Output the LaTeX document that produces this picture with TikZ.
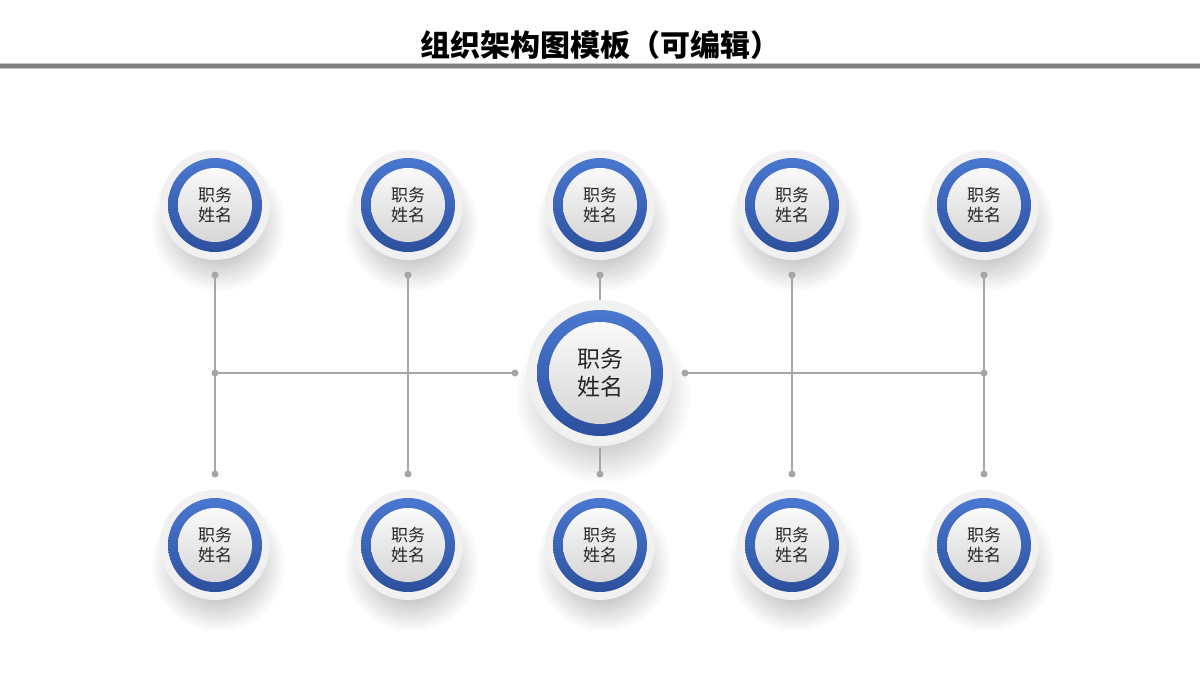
\documentclass[tikz,border=0pt]{standalone}
\usepackage{fontspec}
\newfontfamily\cjk{Noto Sans CJK SC}
\definecolor{ringtop}{HTML}{4A78D0}
\definecolor{ringbot}{HTML}{2D509E}
\definecolor{linkgray}{HTML}{A6A6A6}
\definecolor{bargray}{HTML}{7F7F7F}
\definecolor{txtgray}{HTML}{262626}
\pgfdeclareradialshading{shadowfade}{\pgfpoint{0bp}{0bp}}{color(0bp)=(black!26); color(12bp)=(black!22); color(25bp)=(white); color(50bp)=(white)}
\tikzset{
	shadowdisc/.style={circle, inner sep=0, shading=shadowfade},
	outerdisc/.style={circle, inner sep=0, inner color=white, outer color=black!6},
	ringdisc/.style={circle, inner sep=0, top color=ringtop, bottom color=ringbot},
	innerdisc/.style={circle, inner sep=0, top color=black!2, bottom color=black!16, font=\cjk, text=txtgray, align=center},
	link/.style={draw=linkgray, line width=1.6pt},
	dot/.style={circle, fill=linkgray, inner sep=0, minimum size=7pt}
}
\begin{document}
\begin{tikzpicture}[x=1pt,y=-1pt]
		\useasboundingbox (0,0) rectangle (1200,675);
		\fill[white] (0,0) rectangle (1200,675);

		\node[font=\cjk\bfseries\fontsize{30}{36}\selectfont, text=black] (title) at (600,45) {组织架构图模板（可编辑）};
		\fill[black!22] (0,63) rectangle (1200,69);
		\fill[bargray] (0,64) rectangle (1200,68);

		% shadows
		\node[shadowdisc, minimum size=176pt] at (603,396) {};
		\node[shadowdisc, minimum size=136pt] at (218,224) {};
		\node[shadowdisc, minimum size=136pt] at (411,224) {};
		\node[shadowdisc, minimum size=136pt] at (603,224) {};
		\node[shadowdisc, minimum size=136pt] at (795,224) {};
		\node[shadowdisc, minimum size=136pt] at (987,224) {};
		\node[shadowdisc, minimum size=136pt] at (218,564) {};
		\node[shadowdisc, minimum size=136pt] at (411,564) {};
		\node[shadowdisc, minimum size=136pt] at (603,564) {};
		\node[shadowdisc, minimum size=136pt] at (795,564) {};
		\node[shadowdisc, minimum size=136pt] at (987,564) {};

		% dots
		\node[dot] (t1) at (215,275) {};
		\node[dot] (t2) at (408,275) {};
		\node[dot] (t3) at (600,275) {};
		\node[dot] (t4) at (792,275) {};
		\node[dot] (t5) at (984,275) {};
		\node[dot] (b1) at (215,474) {};
		\node[dot] (b2) at (408,474) {};
		\node[dot] (b3) at (600,474) {};
		\node[dot] (b4) at (792,474) {};
		\node[dot] (b5) at (984,474) {};
		\node[dot] (m1) at (215,373) {};
		\node[dot] (m5) at (984,373) {};
		\node[dot] (cl) at (515,373) {};
		\node[dot] (cr) at (685,373) {};
		\coordinate (ct) at (600,300);
		\coordinate (cb) at (600,448);

		\draw[link] (t1.center) -- (b1.center);
		\draw[link] (t2.center) -- (b2.center);
		\draw[link] (t4.center) -- (b4.center);
		\draw[link] (t5.center) -- (b5.center);
		\draw[link] (m1.center) -- (cl.center);
		\draw[link] (cr.center) -- (m5.center);
		\draw[link] (t3.center) -- (ct);
		\draw[link] (b3.center) -- (cb);

		% centre
		\node[outerdisc, minimum size=146pt] (c) at (600,373) {};
		\node[ringdisc, minimum size=126pt] at (c) {};
		\node[innerdisc, minimum size=102pt, font=\cjk\fontsize{23}{28}\selectfont] at (c) {职务\\姓名};

		% top row
		\node[outerdisc, minimum size=110pt] (p1) at (215,205) {};
		\node[ringdisc, minimum size=94pt] at (p1) {};
		\node[innerdisc, minimum size=74pt, font=\cjk\fontsize{17}{20}\selectfont] at (p1) {职务\\姓名};
		\node[outerdisc, minimum size=110pt] (p2) at (408,205) {};
		\node[ringdisc, minimum size=94pt] at (p2) {};
		\node[innerdisc, minimum size=74pt, font=\cjk\fontsize{17}{20}\selectfont] at (p2) {职务\\姓名};
		\node[outerdisc, minimum size=110pt] (p3) at (600,205) {};
		\node[ringdisc, minimum size=94pt] at (p3) {};
		\node[innerdisc, minimum size=74pt, font=\cjk\fontsize{17}{20}\selectfont] at (p3) {职务\\姓名};
		\node[outerdisc, minimum size=110pt] (p4) at (792,205) {};
		\node[ringdisc, minimum size=94pt] at (p4) {};
		\node[innerdisc, minimum size=74pt, font=\cjk\fontsize{17}{20}\selectfont] at (p4) {职务\\姓名};
		\node[outerdisc, minimum size=110pt] (p5) at (984,205) {};
		\node[ringdisc, minimum size=94pt] at (p5) {};
		\node[innerdisc, minimum size=74pt, font=\cjk\fontsize{17}{20}\selectfont] at (p5) {职务\\姓名};

		% bottom row
		\node[outerdisc, minimum size=110pt] (q1) at (215,545) {};
		\node[ringdisc, minimum size=94pt] at (q1) {};
		\node[innerdisc, minimum size=74pt, font=\cjk\fontsize{17}{20}\selectfont] at (q1) {职务\\姓名};
		\node[outerdisc, minimum size=110pt] (q2) at (408,545) {};
		\node[ringdisc, minimum size=94pt] at (q2) {};
		\node[innerdisc, minimum size=74pt, font=\cjk\fontsize{17}{20}\selectfont] at (q2) {职务\\姓名};
		\node[outerdisc, minimum size=110pt] (q3) at (600,545) {};
		\node[ringdisc, minimum size=94pt] at (q3) {};
		\node[innerdisc, minimum size=74pt, font=\cjk\fontsize{17}{20}\selectfont] at (q3) {职务\\姓名};
		\node[outerdisc, minimum size=110pt] (q4) at (792,545) {};
		\node[ringdisc, minimum size=94pt] at (q4) {};
		\node[innerdisc, minimum size=74pt, font=\cjk\fontsize{17}{20}\selectfont] at (q4) {职务\\姓名};
		\node[outerdisc, minimum size=110pt] (q5) at (984,545) {};
		\node[ringdisc, minimum size=94pt] at (q5) {};
		\node[innerdisc, minimum size=74pt, font=\cjk\fontsize{17}{20}\selectfont] at (q5) {职务\\姓名};
	\end{tikzpicture}
\end{document}
